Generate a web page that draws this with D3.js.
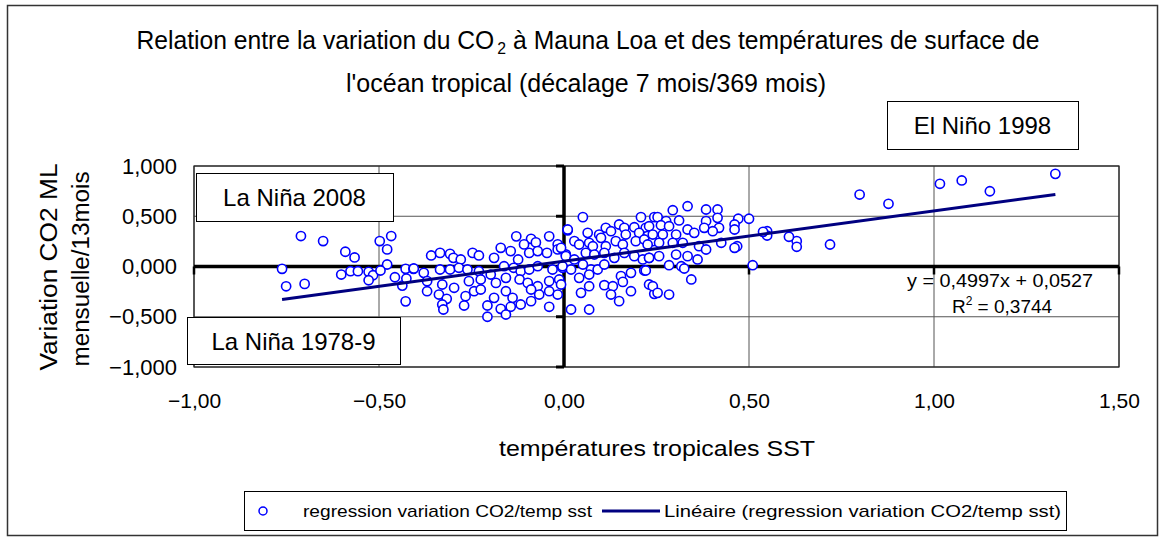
<html>
<head>
<script src="https://cdnjs.cloudflare.com/ajax/libs/d3/7.8.5/d3.min.js"></script>
<style>
  body { margin: 0; background: #fff; }
  text { font-family: "Liberation Sans", Arial, sans-serif; fill: #000; }
</style>
</head>
<body>
<svg id="chart" width="1163" height="539"></svg>
<script>

// axis ticks
var xTicks = [-1, -0.5, 0, 0.5, 1, 1.5]
var yTicks = [-1, -0.5, 0, 0.5, 1]

// temperature anomaly (SST) / CO2 variation
var sst = [
  -0.711, -0.651, -0.591, -0.566, -0.498, -0.467, -0.478, -0.478, -0.762, -0.751, -0.701, -0.602,
  -0.577, -0.557, -0.528, -0.516, -0.528, -0.496, -0.457, -0.437, -0.428, -0.426, -0.407, -0.428,
  -0.129, -0.089, -0.108, -0.076, -0.040, 0.010, -0.017,
  -0.359, -0.335, -0.308, -0.299, -0.279, -0.247, -0.230, -0.189, -0.171, -0.144, -0.124, -0.094, -0.071, -0.046, -0.017, 0.005,
  -0.406, -0.379, -0.335, -0.308, -0.284, -0.261, -0.230, -0.198, -0.162, -0.136, -0.117, -0.094, -0.071, -0.031, -0.004,
  -0.370, -0.329, -0.297, -0.257, -0.225, -0.184, -0.157, -0.120, -0.098, -0.071, -0.040, -0.013,
  -0.370, -0.338, -0.317, -0.266, -0.243, -0.225, -0.189, -0.157, -0.139, -0.089, -0.067, -0.040, -0.017,
  -0.329, -0.326, -0.270, -0.207, -0.171, -0.144, -0.117, -0.089, -0.040,
  -0.207, -0.157,
  0.051, 0.010, 0.208, 0.244, 0.113, 0.149, 0.163, 0.190, 0.221, 0.095, 0.064, 0.127, 0.167, 0.203, 0.226,
  -0.008, 0.028, 0.041, 0.068, 0.078, 0.100, 0.113, 0.140, 0.159, 0.194, 0.217, 0.240,
  0.005, 0.028, 0.059, 0.082, 0.109, 0.136, 0.163, 0.190, 0.213, 0.230,
  -0.004, 0.019, 0.051, 0.073, 0.091, 0.109, 0.154, 0.181, 0.217,
  -0.008, 0.041, 0.068, 0.046, 0.068, 0.109, 0.132, 0.159, 0.181, 0.127, 0.149, 0.230, 0.244, 0.019, 0.068,
  0.294, 0.334, 0.384, 0.415, 0.253, 0.276, 0.311, 0.334, 0.384, 0.415, 0.419, 0.379, 0.230, 0.262, 0.284,
  0.240, 0.267, 0.303, 0.352, 0.402, 0.425, 0.226, 0.257, 0.294, 0.321, 0.365, 0.384,
  0.230, 0.257, 0.303, 0.334, 0.361, 0.284, 0.317, 0.325, 0.221, 0.344, 0.240, 0.253, 0.284,
  0.799, 0.877, 1.016, 1.075, 1.151, 1.328, 0.719, 0.629, 0.629, 0.608, 0.549, 0.549, 0.538, 0.510,
  0.500, 0.471, 0.461, 0.461, 0.468, 0.461
]
var co2 = [
  0.303, 0.253, 0.147, 0.090, 0.253, 0.303, 0.170, 0.020, -0.023, -0.197, -0.173, -0.080,
  -0.047, -0.047, -0.053, -0.087, -0.137, -0.040, -0.107, -0.190, -0.023, -0.120, -0.023, -0.347,
  0.300, 0.275, 0.220, 0.240, 0.300, 0.360, 0.220,
  0.110, 0.136, 0.126, 0.086, 0.070, 0.136, 0.110, 0.086, 0.186, 0.153, 0.070, 0.136, 0.153, 0.136, 0.170, 0.120,
  -0.020, -0.063, -0.030, -0.030, -0.013, -0.030, -0.047, -0.080, 0.003, -0.013, -0.047, -0.030, 0.003, -0.030, -0.013,
  -0.146, -0.179, -0.212, -0.146, -0.129, -0.163, -0.113, -0.129, -0.163, -0.196, -0.146, -0.129,
  -0.246, -0.279, -0.322, -0.295, -0.246, -0.229, -0.312, -0.246, -0.312, -0.229, -0.279, -0.246, -0.279,
  -0.378, -0.428, -0.388, -0.388, -0.421, -0.401, -0.378, -0.345, -0.401,
  -0.500, -0.478,
  0.491, 0.368, 0.491, 0.491, 0.385, 0.418, 0.385, 0.391, 0.385, 0.318, 0.335, 0.351, 0.318, 0.335, 0.302,
  0.186, 0.252, 0.219, 0.236, 0.202, 0.285, 0.202, 0.252, 0.219, 0.252, 0.269, 0.252,
  0.103, 0.070, 0.136, 0.119, 0.136, 0.086, 0.136, 0.103, 0.070, 0.086,
  0.003, -0.030, 0.020, -0.030, -0.030, 0.020, -0.096, -0.063, -0.040,
  -0.179, -0.113, -0.080, -0.262, -0.196, -0.186, -0.196, -0.153, -0.246, -0.279, -0.345, -0.179, -0.272, -0.428, -0.428,
  0.560, 0.600, 0.567, 0.567, 0.491, 0.451, 0.458, 0.368, 0.451, 0.484, 0.385, 0.385, 0.401, 0.411, 0.401,
  0.318, 0.318, 0.318, 0.335, 0.351, 0.236, 0.219, 0.236, 0.236, 0.236, 0.202, 0.169,
  0.086, 0.103, 0.119, 0.103, 0.070, 0.013, 0.003, -0.020, -0.040, -0.129, -0.196, -0.262, -0.279,
  0.716, 0.624, 0.823, 0.856, 0.749, 0.922, 0.219, 0.252, 0.196, 0.296, 0.351, 0.308, 0.345, 0.013,
  0.475, 0.475, 0.418, 0.368, 0.202, 0.186
]

// linear trend given on the chart
var slope = 0.4997
var intercept = 0.0527

var svg = d3.select("#chart")

var x = d3.scaleLinear().domain([-1, 1.5]).range([194, 1119])
var y = d3.scaleLinear().domain([-1, 1]).range([367, 166])

var fr = d3.formatLocale({decimal: ",", thousands: " ", grouping: [3], currency: ["", "€"]})
var fx = fr.format(".2f")
var fy = fr.format(".3f")

// outer frame
svg.append("rect")
  .attr("x", 7.5).attr("y", 5.5)
  .attr("width", 1150).attr("height", 530)
  .attr("fill", "none").attr("stroke", "#333").attr("stroke-width", 1.5)

// title, first line in three pieces (CO2 subscript), squeezed to fit
var parts = [
  {t: "Relation entre la variation du CO", size: 25, dy: 0},
  {t: "2", size: 16, dy: 5},
  {t: "à Mauna Loa et des températures de surface de", size: 25, dy: 0}
]
var gap = [3, 7, 0]
var pieces = parts.map(p => svg.append("text")
  .attr("y", 49 + p.dy)
  .style("font-size", p.size + "px")
  .text(p.t))
var widths = pieces.map(s => s.node().getComputedTextLength())
var k = (903 - d3.sum(gap)) / d3.sum(widths)
var cx = 588 - 903 / 2
pieces.forEach((s, i) => {
  s.attr("x", cx)
   .attr("textLength", widths[i] * k)
   .attr("lengthAdjust", "spacingAndGlyphs")
  cx += widths[i] * k + gap[i]
})

svg.append("text")
  .attr("x", 586).attr("y", 92)
  .attr("text-anchor", "middle")
  .style("font-size", "25px")
  .attr("textLength", 480).attr("lengthAdjust", "spacingAndGlyphs")
  .text("l'océan tropical (décalage 7 mois/369 mois)")

// grid
svg.append("g").selectAll("line").data(xTicks).enter().append("line")
  .attr("x1", d => x(d)).attr("x2", d => x(d))
  .attr("y1", y(-1)).attr("y2", y(1))
  .attr("stroke", "#555").attr("stroke-width", 1)
svg.append("g").selectAll("line").data(yTicks).enter().append("line")
  .attr("x1", x(-1)).attr("x2", x(1.5))
  .attr("y1", d => y(d)).attr("y2", d => y(d))
  .attr("stroke", "#555").attr("stroke-width", 1)
svg.append("rect")
  .attr("x", x(-1)).attr("y", y(1))
  .attr("width", x(1.5) - x(-1)).attr("height", y(-1) - y(1))
  .attr("fill", "none").attr("stroke", "#222").attr("stroke-width", 1.2)

// axes crossing at zero
svg.append("line")
  .attr("x1", x(-1)).attr("x2", x(1.5))
  .attr("y1", y(0)).attr("y2", y(0))
  .attr("stroke", "#000").attr("stroke-width", 3.5)
svg.append("line")
  .attr("x1", x(0)).attr("x2", x(0))
  .attr("y1", y(-1)).attr("y2", y(1))
  .attr("stroke", "#000").attr("stroke-width", 3.5)
svg.append("g").selectAll("line").data(xTicks).enter().append("line")
  .attr("x1", d => x(d)).attr("x2", d => x(d))
  .attr("y1", y(0)).attr("y2", y(0) + 8)
  .attr("stroke", "#000").attr("stroke-width", 2.5)
svg.append("g").selectAll("line").data(yTicks).enter().append("line")
  .attr("x1", x(0) - 8).attr("x2", x(0))
  .attr("y1", d => y(d)).attr("y2", d => y(d))
  .attr("stroke", "#000").attr("stroke-width", 3)

// tick labels, low position
var xAxis = svg.append("g")
  .attr("transform", "translate(0,390)")
  .call(d3.axisBottom(x).tickValues(xTicks).tickFormat(fx).tickSize(0))
xAxis.select(".domain").remove()
xAxis.selectAll("text").style("font-size", "21px").attr("dy", "0.71em")

var yAxis = svg.append("g")
  .attr("transform", "translate(177,0)")
  .call(d3.axisLeft(y).tickValues(yTicks).tickFormat(fy).tickSize(0))
yAxis.select(".domain").remove()
yAxis.selectAll("text").style("font-size", "22px").attr("x", 0)

// axis titles
svg.append("text")
  .attr("x", 657).attr("y", 456)
  .attr("text-anchor", "middle")
  .style("font-size", "22px")
  .attr("textLength", 316).attr("lengthAdjust", "spacingAndGlyphs")
  .text("températures tropicales SST")

svg.append("text")
  .attr("transform", "translate(57,267) rotate(-90)")
  .attr("text-anchor", "middle")
  .style("font-size", "23px")
  .attr("textLength", 207).attr("lengthAdjust", "spacingAndGlyphs")
  .text("Variation CO2 ML")
svg.append("text")
  .attr("transform", "translate(89,269) rotate(-90)")
  .attr("text-anchor", "middle")
  .style("font-size", "23px")
  .attr("textLength", 195).attr("lengthAdjust", "spacingAndGlyphs")
  .text("mensuelle/13mois")

// points
var pts = sst.map((v, i) => [v, co2[i]])
svg.append("g").selectAll("circle").data(pts).enter().append("circle")
  .attr("cx", d => x(d[0]))
  .attr("cy", d => y(d[1]))
  .attr("r", 4.6)
  .attr("fill", "#fff")
  .attr("stroke", "#0000ff")
  .attr("stroke-width", 1.6)

// trend line over the range of the data
var xmin = d3.min(sst), xmax = d3.max(sst)
svg.append("line")
  .attr("x1", x(xmin)).attr("y1", y(slope * xmin + intercept))
  .attr("x2", x(xmax)).attr("y2", y(slope * xmax + intercept))
  .attr("stroke", "#000080").attr("stroke-width", 3)

// annotation boxes
function box(x0, y0, x1, y1, label) {
  svg.append("rect")
    .attr("x", x0 + 0.5).attr("y", y0 + 0.5)
    .attr("width", x1 - x0).attr("height", y1 - y0)
    .attr("fill", "#fff").attr("stroke", "#000").attr("stroke-width", 1)
  svg.append("text")
    .attr("x", (x0 + x1) / 2).attr("y", (y0 + y1) / 2 + 9)
    .attr("text-anchor", "middle")
    .style("font-size", "24px")
    .text(label)
}
box(196, 173, 393, 221, "La Niña 2008")
box(187, 317, 400, 364, "La Niña 1978-9")
box(887, 101, 1078, 149, "El Niño 1998")

// equation
svg.append("text")
  .attr("x", 1000).attr("y", 287)
  .attr("text-anchor", "middle")
  .style("font-size", "19px")
  .attr("textLength", 186).attr("lengthAdjust", "spacingAndGlyphs")
  .text("y = " + fr.format(".4f")(slope) + "x + " + fr.format(".4f")(intercept))
var r2 = svg.append("text")
  .attr("x", 1002).attr("y", 313)
  .attr("text-anchor", "middle")
  .style("font-size", "19px")
r2.append("tspan").text("R")
r2.append("tspan").attr("dy", -8).style("font-size", "12px").text("2")
r2.append("tspan").attr("dy", 8).text(" = 0,3744")

// legend
svg.append("rect")
  .attr("x", 244.5).attr("y", 491.5)
  .attr("width", 822).attr("height", 39)
  .attr("fill", "#fff").attr("stroke", "#000").attr("stroke-width", 1)
svg.append("circle")
  .attr("cx", 263).attr("cy", 511).attr("r", 4)
  .attr("fill", "#fff").attr("stroke", "#0000ff").attr("stroke-width", 1.5)
svg.append("text")
  .attr("x", 303).attr("y", 517)
  .style("font-size", "17px")
  .attr("textLength", 289).attr("lengthAdjust", "spacingAndGlyphs")
  .text("regression variation CO2/temp sst")
svg.append("line")
  .attr("x1", 602).attr("x2", 660).attr("y1", 511).attr("y2", 511)
  .attr("stroke", "#000080").attr("stroke-width", 3)
svg.append("text")
  .attr("x", 664).attr("y", 517)
  .style("font-size", "17px")
  .attr("textLength", 397).attr("lengthAdjust", "spacingAndGlyphs")
  .text("Linéaire (regression variation CO2/temp sst)")

</script>
</body>
</html>
